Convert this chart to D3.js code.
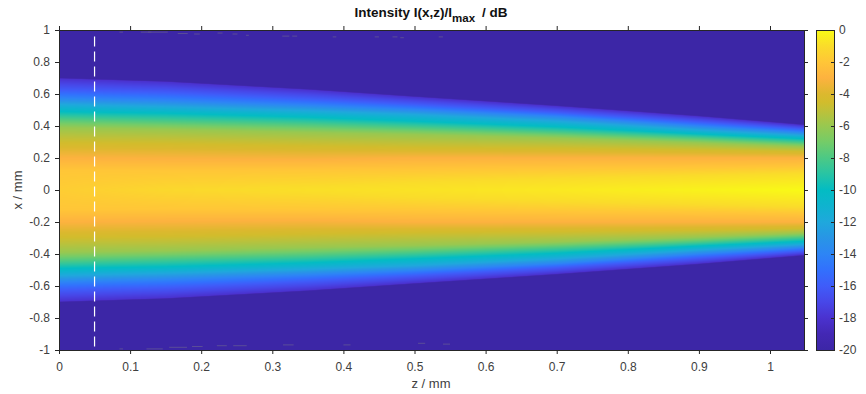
<!DOCTYPE html>
<html>
<head>
<meta charset="utf-8">
<script src="https://cdn.jsdelivr.net/npm/d3@7"></script>
<style>
  body { margin: 0; background: #fff; }
  svg { display: block; }
  text { font-family: "Liberation Sans", Arial, sans-serif; }
</style>
</head>
<body>
<div id="chart"></div>
<script>
var zStations = [0, 0.15, 0.35, 0.5, 0.7, 0.9, 1.05];

// level on the beam axis (x = 0) at each z station, dB
var centreDb = [-1.7, -1.2, -0.9, -0.8, -0.6, -0.3, -0.05];

// half width (mm) of each dB level at each z station
var levelDb = [-1, -2, -3, -4.5, -6, -8, -10, -12, -14, -16, -18, -20];
var w1 = [0, 0, 0.02, 0.047, 0.07, 0.09, 0.105];
var w2 = [0.12, 0.12, 0.125, 0.128, 0.135, 0.14, 0.147];
var w3 = [0.2, 0.195, 0.19, 0.2, 0.2, 0.2, 0.2];
var w4 = [0.295, 0.29, 0.275, 0.265, 0.26, 0.25, 0.24];
var w6 = [0.39, 0.38, 0.36, 0.347, 0.325, 0.295, 0.27];
var w8 = [0.445, 0.43, 0.41, 0.39, 0.36, 0.325, 0.295];
var w10 = [0.49, 0.48, 0.455, 0.43, 0.395, 0.35, 0.32];
var w12 = [0.535, 0.52, 0.495, 0.472, 0.43, 0.375, 0.34];
var w14 = [0.575, 0.56, 0.53, 0.503, 0.46, 0.4, 0.36];
var w16 = [0.625, 0.61, 0.57, 0.535, 0.485, 0.425, 0.38];
var w18 = [0.695, 0.674, 0.625, 0.58, 0.522, 0.458, 0.403];
var w20 = [0.703, 0.682, 0.633, 0.588, 0.53, 0.466, 0.411];
var widths = [w1, w2, w3, w4, w6, w8, w10, w12, w14, w16, w18, w20];

// colour map
var mapDb = [0, -1, -2, -3, -4, -4.5, -5, -6, -7, -8, -9, -10, -11, -12, -13, -14, -15, -16, -17, -18, -19, -20];
var mapColors = ["#f9fb15", "#fadc2a", "#ffc637", "#fdb23f", "#dcb82e", "#d2bc2c", "#c0c038", "#98c850",
  "#74cc68", "#4cc985", "#28c4a4", "#03bcc3", "#0fb3cf", "#1fa8dc", "#2895e6", "#2d85f5",
  "#3270fd", "#3f5cf9", "#4747e8", "#4a32cf", "#4328b4", "#3c26a6"];

// faint numerical specks close to x = +-1: z start, z end, x
var specksTop = [[0.085, 0.09, 0.99], [0.115, 0.13, 0.99], [0.125, 0.153, 0.99], [0.167, 0.181, 0.981],
  [0.19, 0.198, 0.978], [0.223, 0.23, 0.984], [0.244, 0.251, 0.978], [0.263, 0.267, 0.97],
  [0.314, 0.324, 0.965], [0.328, 0.335, 0.965], [0.385, 0.39, 0.96], [0.444, 0.45, 0.96],
  [0.469, 0.476, 0.96], [0.48, 0.485, 0.955], [0.534, 0.54, 0.96]];
var specksBottom = [[0.085, 0.09, -0.99], [0.123, 0.146, -0.99], [0.155, 0.18, -0.98], [0.187, 0.202, -0.975],
  [0.222, 0.236, -0.97], [0.245, 0.264, -0.97], [0.315, 0.33, -0.965], [0.4, 0.41, -0.965],
  [0.505, 0.515, -0.955], [0.54, 0.55, -0.96]];

var dashZ = 0.05;
var dashX = [0.96, -1];

var zTicks = [0, 0.1, 0.2, 0.3, 0.4, 0.5, 0.6, 0.7, 0.8, 0.9, 1];
var xTicks = [-1, -0.8, -0.6, -0.4, -0.2, 0, 0.2, 0.4, 0.6, 0.8, 1];
var barTicks = [0, -2, -4, -6, -8, -10, -12, -14, -16, -18, -20];

var width = 866, height = 394;
var margin = { top: 30, right: 62, bottom: 44, left: 59 };
var plotW = width - margin.left - margin.right,
    plotH = height - margin.top - margin.bottom;

var svg = d3.select("#chart")
    .append("svg")
    .attr("width", width)
    .attr("height", height);

var g = svg.append("g")
    .attr("transform", "translate(" + margin.left + "," + margin.top + ")");

var z = d3.scaleLinear().domain([0, 1.0478]).range([0, plotW]);
var x = d3.scaleLinear().domain([-1, 1]).range([plotH, 0]);
var color = d3.scaleLinear().domain(mapDb).range(mapColors).clamp(true);

// paint the field into a canvas and put it in the svg as an image
var canvas = document.createElement("canvas");
canvas.width = plotW;
canvas.height = plotH;
var ctx = canvas.getContext("2d");

for (var col = 0; col < plotW; col++) {
    var zNow = z.invert(col + 0.5);
    var centre = d3.scaleLinear().domain(zStations).range(centreDb)(zNow);
    var w = [0], db = [centre];
    widths.forEach(function (row, i) {
        var v = d3.scaleLinear().domain(zStations).range(row)(zNow);
        if (levelDb[i] < centre && v > w[w.length - 1]) {
            w.push(v);
            db.push(levelDb[i]);
        }
    });
    var profile = d3.scaleLinear().domain(w).range(db).clamp(true);
    for (var row = 0; row < plotH; row++) {
        ctx.fillStyle = color(profile(Math.abs(x.invert(row + 0.5))));
        ctx.fillRect(col, row, 1, 1);
    }
}

g.append("image")
    .attr("width", plotW)
    .attr("height", plotH)
    .attr("href", canvas.toDataURL());

// specks
g.selectAll(".speck")
    .data(specksTop.concat(specksBottom))
    .enter()
    .append("rect")
    .attr("class", "speck")
    .attr("x", d => z(d[0]))
    .attr("y", d => x(d[2]))
    .attr("width", d => z(d[1]) - z(d[0]))
    .attr("height", 1)
    .attr("fill", "#5a4c98");

// dashed marker line
g.append("line")
    .attr("x1", z(dashZ))
    .attr("x2", z(dashZ))
    .attr("y1", x(dashX[0]))
    .attr("y2", x(dashX[1]))
    .attr("stroke", "#fff")
    .attr("stroke-width", 1.2)
    .attr("stroke-dasharray", "10,5");

// axes, all four sides like the original
var fmt = d => String(d);
var gBottom = g.append("g").attr("transform", "translate(0," + plotH + ")")
    .call(d3.axisBottom(z).tickValues(zTicks).tickFormat(fmt).tickSize(4).tickSizeOuter(0).tickPadding(8));
var gLeft = g.append("g")
    .call(d3.axisLeft(x).tickValues(xTicks).tickFormat(fmt).tickSize(4).tickSizeOuter(0).tickPadding(5));
var gTop = g.append("g")
    .call(d3.axisTop(z).tickValues(zTicks).tickFormat("").tickSize(4).tickSizeOuter(0));
var gRight = g.append("g").attr("transform", "translate(" + plotW + ",0)")
    .call(d3.axisRight(x).tickValues(xTicks).tickFormat("").tickSize(4).tickSizeOuter(0));

// colour bar
var barX = 816, barW = 18;
var barScale = d3.scaleLinear().domain([-20, 0]).range([plotH, 0]);
var defs = svg.append("defs");
var grad = defs.append("linearGradient")
    .attr("id", "barGrad")
    .attr("x1", 0).attr("x2", 0).attr("y1", 0).attr("y2", 1);
grad.selectAll("stop")
    .data(mapDb)
    .enter()
    .append("stop")
    .attr("offset", d => barScale(d) / plotH)
    .attr("stop-color", d => color(d));

var bar = svg.append("g")
    .attr("transform", "translate(" + barX + "," + margin.top + ")");
bar.append("rect")
    .attr("width", barW)
    .attr("height", plotH)
    .attr("fill", "url(#barGrad)");
var gBar = bar.append("g").attr("transform", "translate(" + barW + ",0)")
    .call(d3.axisRight(barScale).tickValues(barTicks).tickFormat(fmt).tickSize(-3).tickSizeOuter(0));
gBar.selectAll("text").attr("x", 5);
bar.append("rect")
    .attr("x", 0.5)
    .attr("y", 0.5)
    .attr("width", barW)
    .attr("height", plotH)
    .attr("fill", "none")
    .attr("stroke", "#262626");

[gBottom, gLeft, gTop, gRight, gBar].forEach(function (a) {
    a.selectAll("path, line").attr("stroke", "#262626");
    a.selectAll("text").attr("fill", "#404040").style("font-size", "12px")
        .style("font-family", '"Liberation Sans", Arial, sans-serif');
});

// labels
svg.append("text")
    .attr("x", 431)
    .attr("y", 388)
    .attr("text-anchor", "middle")
    .attr("fill", "#404040")
    .style("font-size", "13px")
    .text("z / mm");

svg.append("text")
    .attr("transform", "translate(22," + (margin.top + plotH / 2) + ") rotate(-90)")
    .attr("text-anchor", "middle")
    .attr("fill", "#404040")
    .style("font-size", "13px")
    .text("x / mm");

var title = svg.append("text")
    .attr("x", 431)
    .attr("y", 17)
    .attr("text-anchor", "middle")
    .attr("fill", "#111")
    .style("font-size", "13.5px")
    .style("font-weight", "bold");
title.append("tspan").text("Intensity I(x,z)/I");
title.append("tspan").attr("dy", 5).style("font-size", "11.5px").text("max");
title.append("tspan").attr("dy", -5).attr("dx", 3).text(" / dB");
</script>
</body>
</html>
